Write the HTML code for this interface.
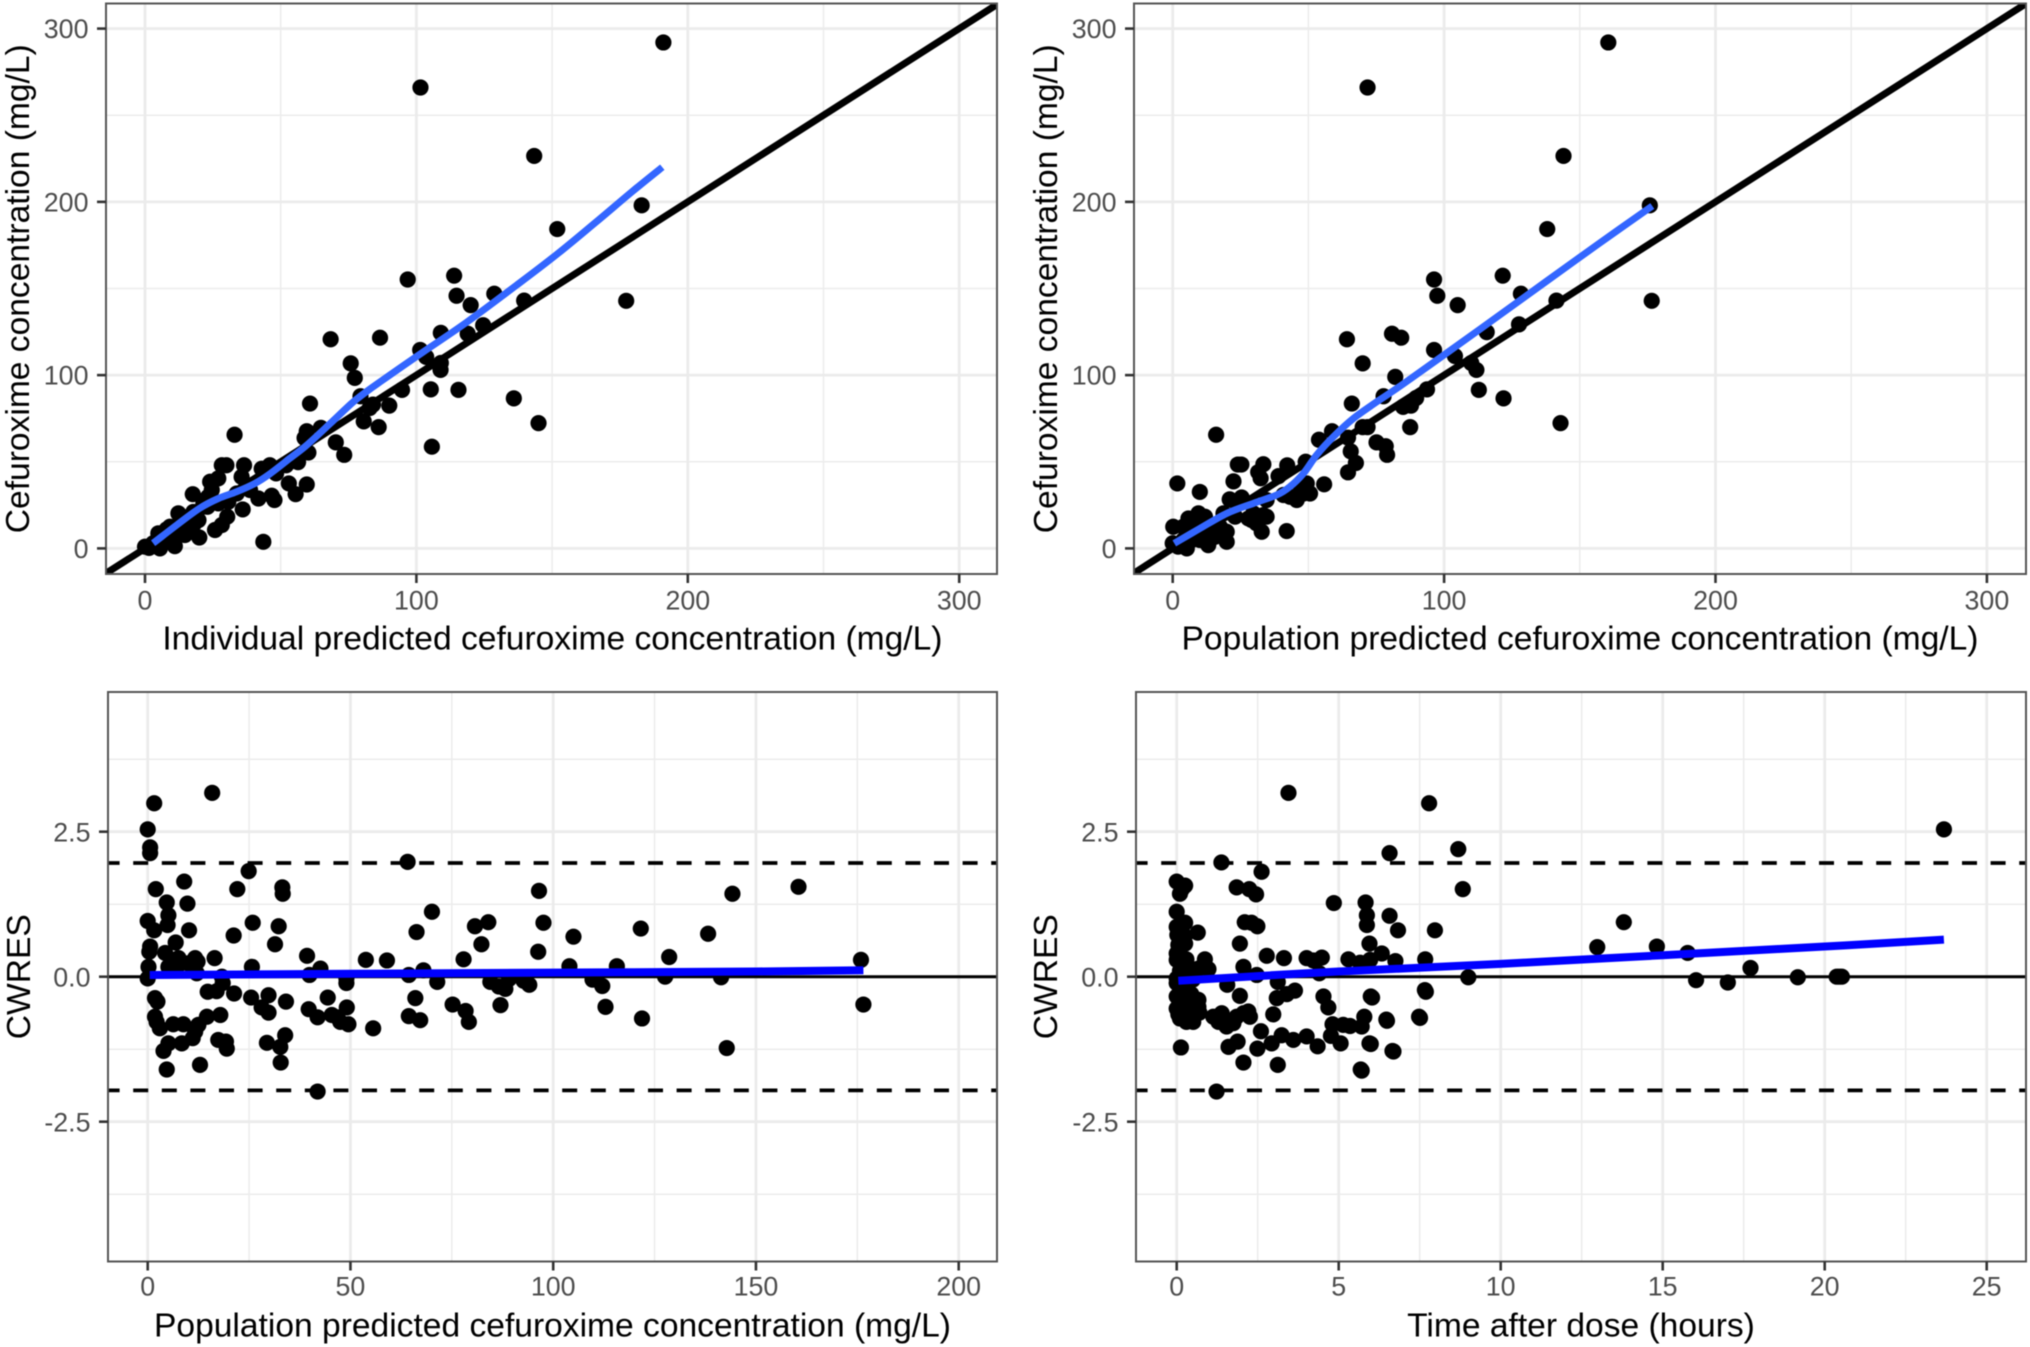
<!DOCTYPE html>
<html lang="en">
<head>
<meta charset="utf-8">
<title>Cefuroxime goodness-of-fit plots</title>
<style>
html,body{margin:0;padding:0;background:#fff;}
svg{display:block;font-family:"Liberation Sans",Arial,sans-serif;filter:blur(0.45px);}
</style>
</head>
<body>
<svg id="figure" xmlns="http://www.w3.org/2000/svg" width="2030" height="1347" viewBox="0 0 2030 1347">
<rect x="0" y="0" width="2030" height="1347" fill="#fff"/>
</svg>
<script>
// ---------- Shared data ----------
const concMajorTicks = [0, 100, 200, 300];
const concMinorTicks = [50, 150, 250];
const cwresMajorTicks = [-2.5, 0, 2.5];
const cwresTickLabels = ['-2.5', '0.0', '2.5'];
const cwresMinorTicks = [-3.75, -1.25, 1.25, 3.75];
const predMajorTicks = [0, 50, 100, 150, 200];
const predMinorTicks = [25, 75, 125, 175];
const timeMajorTicks = [0, 5, 10, 15, 20, 25];
const timeMinorTicks = [2.5, 7.5, 12.5, 17.5, 22.5];
const identityLine = [-50, 400];
const cwresLimit = 1.96;

// ---------- Panel A: DV vs IPRED ----------
const aIpred = [191,101.5,143.4,183,151.9,177.3,96.8,113.9,114.8,120,128.7,139.7,124.6,109,118.9,101.4,103.6,109,108.9,105.3,115.5,135.9,145,105.7,94.7,86.6,68.4,75.8,77.3,79.4,90,82.8,80.6,86.1,60.8,59.6,64.8,58.8,70.3,73.4,60.2,56.4,33,46,43,48.3,52,53,59.6,55.5,46.7,47.7,41.8,36,38.7,33.8,35.6,36.5,28.3,30,27,24,24.6,17.6,22,30.7,30.3,28.3,25.8,43.6,12.3,16.6,19.7,15.4,20,14.7,11,9.8,7.4,4.9,5.5,3,0,1.5,9.2,12.9,17.8,21.5,23.3,84,8,13,16,18,6,14,23,27];
const aDv = [292,266,226.5,198,184.3,142.9,155.2,157.4,145.8,140.4,147,143,128.8,124.4,123.9,114.5,110.5,107,103,91.8,91.5,86.6,72.3,58.7,91.5,121.6,120.7,106.8,98.4,87.8,82.4,81,73.3,70,83.6,67.6,69.6,63.7,61.2,54,55.3,49.8,65.6,48,46,43.3,48,37.5,36.9,31.3,30.4,27.9,28.8,22.5,33.7,31.7,41.3,48,48,48,40.4,38.5,33.7,31.3,27.9,26.9,18.3,13.5,10.6,3.8,20.2,18.3,16.3,12.5,6.3,7.7,1.3,8.7,5.8,8.7,0,3,1,0.3,12.5,12.5,21,26,29.8,83,11,15,10,14,4,16,24,26];
const aSmoothX = [3,11.7,20,27,33.8,40.5,46,53.4,59.6,68.2,76.8,84.1,92.8,102.6,118.5,137.6,152,166.3,179.4,190.6];
const aSmoothY = [3,13.5,23,28.8,32.7,37.5,43,52,59.6,72,84.6,93.3,102.9,113.5,130.5,152.7,170,188.5,205.8,220];

// ---------- Panel B: DV vs PRED ----------
const bPred = [160.5,71.8,144,175.8,138,176.5,96.3,121.6,97.5,105,128.3,141.4,127.6,115.7,80.8,84.2,64.2,96.3,104,110,111.9,70,82,93.7,112.8,121.9,142.9,77.7,66,84.9,87.8,89.7,87.5,70,71.8,58.7,53.9,64.6,75.1,78.5,79,65.6,67.5,64.6,16,1.7,10,25.3,24,33.4,31.5,32.4,22.4,42.2,39,49,55.8,42,40.8,43.2,45.7,48.2,50.6,49.4,46.9,21,25.4,34.6,29.7,33.4,27.9,34.6,30.9,29.1,32.8,23,18.7,19.9,19.9,13.1,15.6,9.5,5.8,0.2,11.9,7.6,3.9,11.3,17.4,5.2,2,0,7,10,3.9,13.8,6,9,15,12];
const bDv = [292,266,226.5,198,184.3,142.9,155.2,157.4,145.8,140.4,147,143,129.3,124.8,123.9,121.6,120.7,114.5,111,107,103,106.8,99,91.8,91.5,86.6,72.3,87.8,83.6,81.7,82.4,86.8,70,70,70,67.6,62.7,63.9,61.2,59,54,56,49.3,43.9,65.6,37.5,32.6,48.4,48.4,48.6,44,40.5,38.7,47.9,41.7,50,37,10,30.8,29.8,27.9,31.7,31.7,37.5,36.5,28.3,29.4,27.9,20.2,19.2,17.3,18.3,14.4,16.4,9.6,18.3,20.2,3.8,9.6,1.9,6.7,20.2,17.3,12.5,18.3,14.4,12.5,10.6,12.5,0,1,3,4.8,4.8,4.8,12.5,9,7,11,4];
const bSmoothX = [0.6,10,19.9,29.7,38.3,43.2,48.2,53,59.2,66.6,75.2,85,113.5,137.4,156.4,176.7];
const bSmoothY = [2.9,11.5,20.2,26,30.8,35.6,43.3,53.8,64.4,75,84.6,95,126.8,153.8,175.2,197.6];

// ---------- Panel C: CWRES vs PRED ----------
const cPred = [15.9,1.6,0,0.6,0.6,24.9,22.1,33.2,33.3,9,2,4.7,9.8,5.1,4.9,0,1.6,10.2,25.9,21.2,32.3,31.4,6.9,0.6,0.4,4.3,0.2,0,5.9,7.6,5.1,7.2,11.7,12.3,10,12.1,16.5,25.7,39.3,42.6,39.9,53.8,59,64.4,68,66.3,70.1,80.7,84,82.3,77.9,64.1,49,49,18.5,18.3,14.8,17,21.3,25.5,29.8,34.1,71.4,44.4,49.1,28.1,29.8,39.7,41.9,45.4,46.8,47.5,49.5,55.6,66,64.4,67.2,75.2,78.4,79.2,84.5,86.6,87,1.8,2.4,1.8,2.2,3,6.3,8.8,14.6,17.9,12.5,11.7,11.1,8.4,5.1,3.9,4.7,12.9,17.4,19.3,19.5,29.4,32.7,33.9,32.8,41.9,96.5,97.6,96.3,105,104,160.5,144.2,138.2,121.6,128.6,115.7,175.9,176.5,142.8,121.9,112.9,112.1,109.7,141.4,127.6,94.1,92.7,89.1,88.2];
const cCwres = [3.17,2.99,2.54,2.23,2.13,1.82,1.51,1.54,1.43,1.64,1.51,1.28,1.26,1.06,0.89,0.96,0.8,0.8,0.93,0.71,0.87,0.56,0.59,0.52,0.43,0.41,0.17,-0.03,0.29,0.32,0.17,0.17,0.32,0.26,0.23,0.06,0.32,0.17,0.36,0.14,0.03,0.29,0.28,0.03,0.11,0.77,1.12,0.87,0.94,0.56,0.3,1.98,-0.11,-0.03,-0.11,0,-0.26,-0.25,-0.29,-0.36,-0.32,-0.43,-0.09,-0.36,-0.53,-0.53,-0.62,-0.56,-0.7,-0.66,-0.7,-0.78,-0.82,-0.89,-0.37,-0.68,-0.75,-0.48,-0.59,-0.78,-0.09,-0.17,-0.49,-0.37,-0.43,-0.69,-0.78,-0.89,-0.82,-0.82,-0.69,-0.66,-0.83,-0.95,-1.06,-1.15,-1.15,-1.28,-1.6,-1.52,-1.09,-1.12,-1.24,-1.14,-1.21,-1.01,-1.48,-1.98,1.48,0.93,0.43,0.69,0.18,1.55,1.43,0.74,0.83,0.34,0.18,0.29,-0.48,-1.23,-0.72,-0.52,-0.16,-0.05,-0.01,0,-0.14,-0.07,-0.04,-0.21];
const cSmoothX = [0.5,50,100,150,176.5];
const cSmoothY = [0.03,0.05,0.07,0.09,0.11];

// ---------- Panel D: CWRES vs time ----------
const dTime = [3.45,7.79,23.68,8.69,6.57,8.83,1.38,2.62,4.85,5.83,5.87,5.87,6.57,6.83,7.97,13.8,12.98,14.82,15.77,17.71,16.03,17.01,19.17,20.37,20.45,20.53,9,7.67,7.69,7.51,6.49,6.69,5.99,6.03,5.71,6.75,0,0.26,0.1,0.15,1.85,2.24,2.45,0,0.26,0,0.02,0.26,0.65,2.1,2.31,2.49,1.95,0,0,0.2,0.1,0.87,0.98,0.67,2.06,2.47,2.78,3.31,4.01,4.48,4.22,4.4,5.3,5.66,5.95,6.33,5.97,0,1.56,1.95,3.12,3.09,3.4,3.65,4.53,4.68,5.99,7.66,7.48,6.47,5.79,5.71,5.35,5.14,4.81,4.76,5.06,5.95,6.66,5.68,4.01,4.35,3.6,3.24,2.93,2.49,2.6,2.98,3.12,2.06,1.6,1.88,1.23,0.13,0,0,0,0.1,0.26,0.51,0.41,0.67,0.67,0.2,0.36,1.13,1.39,1.29,1.54,1.75,1.85,2.21,2.26,2.06,0.1,0.2,0.3,0.05,0.15,0.35,0.1,0.3,0.15,0.25,0.05,0.4,0.5,0.6,0.45,0.3,0.7,0.6];
const dCwres = [3.17,2.99,2.54,2.2,2.13,1.51,1.97,1.81,1.27,1.28,1.06,0.89,1.05,0.8,0.8,0.94,0.51,0.52,0.41,0.15,-0.06,-0.1,-0.01,0,0,0,-0.01,0.3,-0.26,-0.71,-0.76,-1.29,-1.16,-0.36,-1.62,0.27,1.64,1.57,1.43,1.5,1.54,1.51,1.42,1.12,0.93,0.86,0.72,0.57,0.76,0.94,0.93,0.87,0.57,0.4,0.29,0.23,0.37,0.3,0.13,0.14,0.17,0.03,0.36,0.32,0.32,0.33,0.28,0.06,0.3,0.24,0.57,0.4,0.29,-0.03,-0.14,-0.33,-0.09,-0.37,-0.3,-0.24,-0.34,-0.53,-0.34,-0.23,-0.69,-0.74,-0.69,-0.86,-0.85,-0.83,-0.82,-1.02,-1.15,-1.15,-1.28,-1.6,-1.03,-1.2,-1.09,-1.01,-1.15,-1.24,-0.94,-0.65,-1.52,-1.48,-1.21,-1.12,-1.98,-1.22,-0.11,-0.34,-0.55,-0.72,-0.69,-0.78,-0.57,-0.4,-0.52,-0.23,-0.11,-0.69,-0.63,-0.78,-0.86,-0.8,-0.69,-0.6,-0.69,-0.63,-0.25,-0.45,-0.6,-0.65,-0.15,0.05,0.1,0.3,0.8,0.7,0.55,0.15,-0.05,0.1,-0.3,-0.78,-0.62,-0.45];
const dSmoothX = [0.05,5,10,15,20,23.68];
const dSmoothY = [-0.07,0.09,0.22,0.37,0.52,0.64];

// ---------- Drawing helpers ----------
const NS = 'http://www.w3.org/2000/svg';
const figure = document.getElementById('figure');

function scale(d0, d1, r0, r1) {
  return function (v) { return r0 + (v - d0) * (r1 - r0) / (d1 - d0); };
}
function make(parent, tag, attrs) {
  const el = document.createElementNS(NS, tag);
  for (const k in attrs) el.setAttribute(k, attrs[k]);
  parent.appendChild(el);
  return el;
}
function curvePath(xs, ys) {
  let d = 'M' + xs[0].toFixed(1) + ' ' + ys[0].toFixed(1);
  for (let i = 0; i < xs.length - 1; i++) {
    const i0 = Math.max(i - 1, 0), i3 = Math.min(i + 2, xs.length - 1);
    const c1x = xs[i] + (xs[i + 1] - xs[i0]) / 6, c1y = ys[i] + (ys[i + 1] - ys[i0]) / 6;
    const c2x = xs[i + 1] - (xs[i3] - xs[i]) / 6, c2y = ys[i + 1] - (ys[i3] - ys[i]) / 6;
    d += ' C' + c1x.toFixed(1) + ' ' + c1y.toFixed(1) + ' ' + c2x.toFixed(1) + ' ' + c2y.toFixed(1) + ' ' + xs[i + 1].toFixed(1) + ' ' + ys[i + 1].toFixed(1);
  }
  return d;
}

function drawPanel(cfg) {
  const g = make(figure, 'g', {});
  
  
  const L = cfg.left, R = cfg.right, T = cfg.top, B = cfg.bottom;
  const x = cfg.x, y = cfg.y;

  const clip = make(g, 'clipPath', { id: cfg.name + '-clip' });
  make(clip, 'rect', { x: L, y: T, width: R - L, height: B - T });

  const grid = make(g, 'g', {});
  
  
  cfg.xMinor.forEach(function (v) {
    const l = make(grid, 'line', { x1: x(v), x2: x(v), y1: T, y2: B, stroke: '#ececec', 'stroke-width': 1.5 });
    
    
  });
  cfg.yMinor.forEach(function (v) {
    const l = make(grid, 'line', { x1: L, x2: R, y1: y(v), y2: y(v), stroke: '#ececec', 'stroke-width': 1.5 });
    
    
  });
  cfg.xMajor.forEach(function (v) {
    const l = make(grid, 'line', { x1: x(v), x2: x(v), y1: T, y2: B, stroke: '#ebebeb', 'stroke-width': 2.8 });
    
    
  });
  cfg.yMajor.forEach(function (v) {
    const l = make(grid, 'line', { x1: L, x2: R, y1: y(v), y2: y(v), stroke: '#ebebeb', 'stroke-width': 2.8 });
    
    
  });

  const marks = make(g, 'g', { 'clip-path': 'url(#' + cfg.name + '-clip)' });
  
  

  if (cfg.identity) {
    const l = make(marks, 'line', { x1: x(cfg.identity[0]), y1: y(cfg.identity[0]), x2: x(cfg.identity[1]), y2: y(cfg.identity[1]), stroke: '#000', 'stroke-width': 7 });
    
    
  }
  if (cfg.limit) {
    const l0 = make(marks, 'line', { x1: L, x2: R, y1: y(0), y2: y(0), stroke: '#000', 'stroke-width': 3 });
    
    
    [cfg.limit, -cfg.limit].forEach(function (v) {
      const l = make(marks, 'line', { x1: L, x2: R, y1: y(v), y2: y(v), stroke: '#000', 'stroke-width': 3.8, 'stroke-dasharray': '15 13.6', 'stroke-dashoffset': 3.4 });
      
      
    });
  }

  cfg.px.forEach(function (v, i) {
    const c = make(marks, 'circle', { cx: x(v), cy: y(cfg.py[i]), r: 8.1, fill: '#000' });
    
    
  });

  const d = curvePath(cfg.sx.map(x), cfg.sy.map(y));
  const smooth = make(marks, 'path', { d: d, fill: 'none', stroke: cfg.smoothColor, 'stroke-width': cfg.smoothWidth, 'stroke-linejoin': 'round' });
  
  

  const border = make(g, 'rect', { x: L, y: T, width: R - L, height: B - T, fill: 'none', stroke: '#555', 'stroke-width': 2 });
  
  

  const tickColor = '#333', labelColor = '#4d4d4d';
  cfg.xMajor.forEach(function (v) {
    const t = make(g, 'line', { x1: x(v), x2: x(v), y1: B, y2: B + 9, stroke: tickColor, 'stroke-width': 2.6 });
    
    
    const s = make(g, 'text', { x: x(v), y: B + cfg.xLabelGap, 'text-anchor': 'middle', 'font-size': 26.8, fill: labelColor });
    s.textContent = String(v);
    
    
  });
  cfg.yMajor.forEach(function (v, i) {
    const t = make(g, 'line', { x1: L - 9, x2: L, y1: y(v), y2: y(v), stroke: tickColor, 'stroke-width': 2.6 });
    
    
    const s = make(g, 'text', { x: L - 17.5, y: y(v) + 9.6, 'text-anchor': 'end', 'font-size': 26.8, fill: labelColor });
    s.textContent = cfg.yLabels ? cfg.yLabels[i] : String(v);
    
    
  });

  const xt = make(g, 'text', { x: (L + R) / 2 + cfg.xTitleShift, y: B + cfg.xTitleGap, 'text-anchor': 'middle', 'font-size': 33.6, fill: '#000' });
  xt.textContent = cfg.xTitle;
  
  

  const yx = cfg.yTitleX, yy = (T + B) / 2;
  const yt = make(g, 'text', { x: yx, y: yy, transform: 'rotate(-90 ' + yx + ' ' + yy + ')', 'text-anchor': 'middle', 'font-size': 33.6, fill: '#000' });
  yt.textContent = cfg.yTitle;
  
  
}

// ---------- Panels ----------
drawPanel({
  name: 'panel-observed-vs-individual-predicted',
  left: 106, right: 997, top: 3.5, bottom: 574,
  x: scale(0, 300, 145, 959.2), y: scale(0, 300, 548.4, 28.6),
  xMajor: concMajorTicks, xMinor: concMinorTicks, yMajor: concMajorTicks, yMinor: concMinorTicks,
  px: aIpred, py: aDv, sx: aSmoothX, sy: aSmoothY,
  identity: identityLine, smoothColor: '#3366ff', smoothWidth: 7,
  xLabelGap: 35.3, xTitleGap: 75.3, xTitleShift: 0.9, yTitleX: 29,
  xTitle: 'Individual predicted cefuroxime concentration (mg/L)',
  yTitle: 'Cefuroxime concentration (mg/L)'
});
drawPanel({
  name: 'panel-observed-vs-population-predicted',
  left: 1134, right: 2026, top: 3.5, bottom: 574,
  x: scale(0, 300, 1172.7, 1986.9), y: scale(0, 300, 548.4, 28.6),
  xMajor: concMajorTicks, xMinor: concMinorTicks, yMajor: concMajorTicks, yMinor: concMinorTicks,
  px: bPred, py: bDv, sx: bSmoothX, sy: bSmoothY,
  identity: identityLine, smoothColor: '#3366ff', smoothWidth: 7,
  xLabelGap: 35.3, xTitleGap: 75.3, xTitleShift: 0, yTitleX: 1057,
  xTitle: 'Population predicted cefuroxime concentration (mg/L)',
  yTitle: 'Cefuroxime concentration (mg/L)'
});
drawPanel({
  name: 'panel-cwres-vs-population-predicted',
  left: 108, right: 997, top: 692, bottom: 1261.5,
  x: scale(0, 200, 147.7, 958.7), y: scale(-2.5, 2.5, 1121.7, 831.7),
  xMajor: predMajorTicks, xMinor: predMinorTicks, yMajor: cwresMajorTicks, yMinor: cwresMinorTicks, yLabels: cwresTickLabels,
  px: cPred, py: cCwres, sx: cSmoothX, sy: cSmoothY,
  limit: cwresLimit, smoothColor: '#0000ff', smoothWidth: 8,
  xLabelGap: 34.2, xTitleGap: 75.2, xTitleShift: 0, yTitleX: 30,
  xTitle: 'Population predicted cefuroxime concentration (mg/L)',
  yTitle: 'CWRES'
});
drawPanel({
  name: 'panel-cwres-vs-time-after-dose',
  left: 1136, right: 2026, top: 692, bottom: 1261.5,
  x: scale(0, 25, 1176.7, 1986.7), y: scale(-2.5, 2.5, 1121.7, 831.7),
  xMajor: timeMajorTicks, xMinor: timeMinorTicks, yMajor: cwresMajorTicks, yMinor: cwresMinorTicks, yLabels: cwresTickLabels,
  px: dTime, py: dCwres, sx: dSmoothX, sy: dSmoothY,
  limit: cwresLimit, smoothColor: '#0000ff', smoothWidth: 8,
  xLabelGap: 34.2, xTitleGap: 75.2, xTitleShift: 0, yTitleX: 1057,
  xTitle: 'Time after dose (hours)',
  yTitle: 'CWRES'
});
</script>
</body>
</html>
